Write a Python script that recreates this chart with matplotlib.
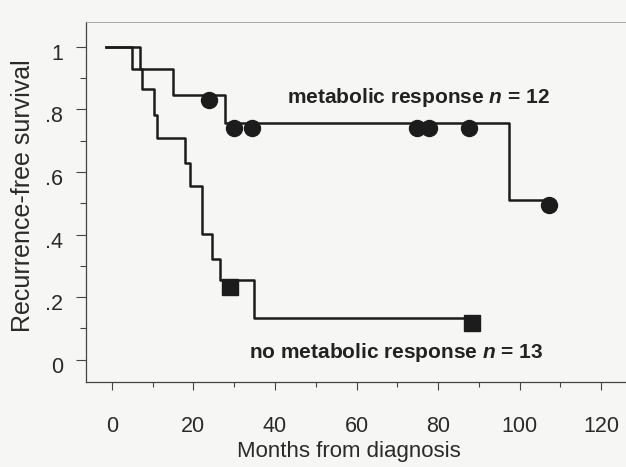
from matplotlib import pyplot as plt
from matplotlib.transforms import ScaledTranslation

plt.rcParams['font.family'] = ['Liberation Sans', 'DejaVu Sans']
plt.rcParams['mathtext.fontset'] = 'custom'
plt.rcParams['mathtext.it'] = 'Liberation Sans:italic:bold'
plt.rcParams['mathtext.rm'] = 'Liberation Sans:bold'

# metabolic response, n = 12 (step curve + censored points)
resp_t = [-1.4, 6.9, 14.9, 27.8, 97.4, 107.2]
resp_s = [1.0, 0.93, 0.845, 0.755, 0.51, 0.51]
resp_cens_t = [23.9, 30.0, 34.4, 74.8, 77.8, 87.6, 107.2]
resp_cens_s = [0.83, 0.74, 0.74, 0.74, 0.74, 0.74, 0.495]

# no metabolic response, n = 13
nores_t = [-1.4, 4.9, 7.5, 10.4, 11.2, 18.0, 19.2, 22.1, 24.7, 26.5, 34.9, 88.2]
nores_s = [1.0, 0.93, 0.864, 0.782, 0.709, 0.627, 0.556, 0.402, 0.321, 0.255, 0.132, 0.132]
nores_cens_t = [28.9, 88.2]
nores_cens_s = [0.233, 0.117]

xticks = [0, 20, 40, 60, 80, 100, 120]
yticks = [0, 0.2, 0.4, 0.6, 0.8, 1.0]
ytick_labels = ['0', '.2', '.4', '.6', '.8', '1']

bg = '#f6f6f4'
ink = '#1c1c1c'

fig = plt.figure(figsize=(6.26, 4.67), dpi=100, facecolor=bg)
ax = fig.add_axes([0.1374, 0.181, 1.0257 - 0.1374, 0.9535 - 0.181])
ax.set_facecolor(bg)

ax.step(resp_t, resp_s, where='post', color=ink, lw=1.8)
ax.step(nores_t, nores_s, where='post', color=ink, lw=1.8)
ax.plot(resp_cens_t, resp_cens_s, 'o', color=ink, ms=11.5, ls='none')
ax.plot(nores_cens_t, nores_cens_s, 's', color=ink, ms=12, ls='none')

ax.text(42.9, 0.819, 'metabolic response $n$ = 12', fontsize=15,
        fontweight='bold', color='#222222', ha='left', va='baseline')
ax.text(33.7, 0.0064, 'no metabolic response $n$ = 13', fontsize=15,
        fontweight='bold', color='#222222', ha='left', va='baseline')

ax.set_xlim(-6.3, 130)
ax.set_ylim(-0.0728, 1.0799)

ax.set_xticks(xticks)
ax.set_xticks(range(10, 130, 20), minor=True)
ax.set_yticks(yticks)
ax.set_yticklabels(ytick_labels)
ax.set_yticks([0.1, 0.3, 0.5, 0.7, 0.9], minor=True)

ax.tick_params(axis='x', which='major', length=5.8, width=0.8, color='#444444',
               labelsize=15.5, labelcolor='#2a2a2a', pad=18.5)
ax.tick_params(axis='x', which='minor', length=3.6, width=0.8, color='#444444')
ax.tick_params(axis='y', which='major', length=7.2, width=0.8, color='#444444',
               labelsize=15.5, labelcolor='#2a2a2a', pad=9.4)
ax.tick_params(axis='y', which='minor', length=4.3, width=0.8, color='#444444')

for lab in ax.get_yticklabels():
    lab.set_transform(lab.get_transform() + ScaledTranslation(0, -0.05, fig.dpi_scale_trans))

for side in ['left', 'bottom']:
    ax.spines[side].set_color('#444444')
    ax.spines[side].set_linewidth(0.9)
ax.spines['top'].set_color('#9a9a9a')
ax.spines['top'].set_linewidth(0.6)
ax.spines['right'].set_visible(False)

ax.set_xlabel('Months from diagnosis', fontsize=16, color='#2a2a2a')
ax.xaxis.set_label_coords(0.472, -0.162)
ax.set_ylabel('Recurrence-free survival', fontsize=18, color='#2a2a2a')
ax.yaxis.set_label_coords(-0.092, 0.519)

fig.savefig('out.png', dpi=100, facecolor=bg)
